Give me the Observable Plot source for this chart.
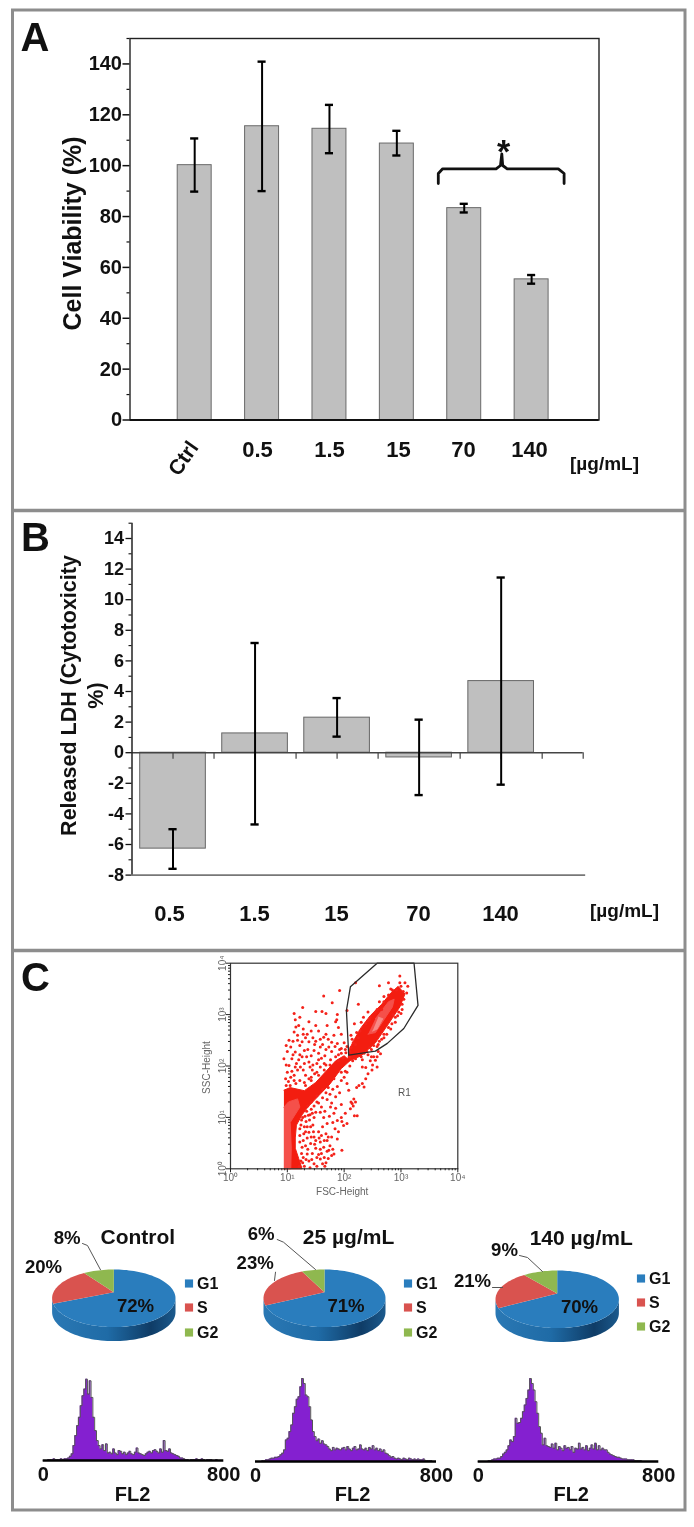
<!DOCTYPE html>
<html><head><meta charset="utf-8">
<style>html,body{margin:0;padding:0;background:#fff;overflow:hidden}#root{position:relative;width:694px;height:1527px;filter:blur(0.4px)}#root svg{position:absolute;left:0;top:0}</style>
<script src="https://cdn.jsdelivr.net/npm/d3@7"></script>
<script src="https://cdn.jsdelivr.net/npm/@observablehq/plot@0.6"></script>
</head><body><div id="root"></div>
<script>
const W=694,H=1527,FONT='"Liberation Sans",Arial,sans-serif';
// Panel A
const aConc=["Ctrl","0.5","1.5","15","70","140"];
const aMean=[100.2,115.5,114.5,108.7,83.3,55.3];
const aHigh=[110.7,140.9,123.9,113.7,85,57];
const aLow=[89.8,90,104.9,104,81.6,53.6];
// Panel B
const bConc=["0.5","1.5","15","70","140"];
const bMean=[-6.27,1.26,2.29,-0.31,4.68];
const bHigh=[-5,7.17,3.57,2.16,11.45];
const bLow=[-7.59,-4.69,1.05,-2.77,-2.09];
// Panel C pies
const phases=["G1","S","G2"];
const phaseColors=["#2a7dbd","#d9534f","#8fb84f"];
const pieControl=[72,20,8],pie25=[71,23,6],pie140=[70,21,9];
// Histograms: counts, FL2 0..800
const histControl=[0,0,0,1,1,1,2,1,1,1,2,1,2,2,3,5,8,18,30,42,52,66,78,86,98,80,96,76,52,36,24,18,14,19,12,20,9,10,8,14,9,7,12,11,8,10,7,9,11,8,7,10,15,9,8,7,6,8,10,11,9,12,13,11,9,14,10,24,12,11,14,9,8,7,6,5,3,3,2,1,1,0,1,1,1,2,1,1,2,1,0,1,1,1,0,0,1,0,0,0];
const hist25=[0,0,0,0,1,1,2,2,3,4,4,5,5,6,8,10,14,26,28,36,44,58,66,75,78,90,100,94,80,78,66,50,36,30,25,27,22,25,21,20,18,15,13,17,14,16,15,14,16,17,14,18,15,13,16,18,14,15,20,15,14,16,13,17,15,19,14,16,13,15,12,14,10,9,7,5,6,4,3,4,3,2,4,3,2,4,3,2,3,2,3,2,2,3,1,1,1,1,0,0];
const hist140=[0,0,0,0,0,0,1,1,2,3,3,4,4,6,9,11,14,19,26,24,30,52,46,47,52,60,68,76,86,100,94,86,72,58,42,34,20,28,19,18,17,21,16,22,14,18,16,13,19,16,17,14,18,11,16,15,22,15,17,14,19,13,16,20,15,22,14,19,14,16,14,14,11,9,8,7,6,5,5,4,3,3,3,2,2,2,2,1,1,1,1,0,0,0,0,0,0,0,0,0];
// Flow cytometry: [log10 FSC, log10 SSC]
const scatterExp=[[1.64,3.36],[1.79,3.23],[1.92,3.47],[1.27,3.14],[1.12,3.02],[1.14,2.9],[1.5,3.06],[1.61,3.06],[1.68,3.02],[1.87,2.9],[1.85,2.86],[2.05,3.08],[1.38,2.86],[1.5,2.79],[1.2,2.79],[1.12,2.66],[1.03,2.5],[1.18,2.6],[1.26,2.47],[1.38,2.47],[1.47,2.3],[1.7,2.79],[1.64,2.56],[1.82,2.6],[1.88,2.44],[1.73,2.37],[1.58,2.37],[1.06,2.37],[0.94,2.14],[1.14,2.27],[1.26,2.18],[1.03,2.01],[1.14,1.98],[1.23,1.98],[1.38,2.08],[1.52,2.05],[1,1.88],[1.12,1.82],[1.32,1.82],[1.44,1.92],[0.97,1.75],[1.08,2.14],[1.2,2.12],[1.3,2.3],[1.42,2.2],[1.55,2.25],[1.66,2.2],[1.78,2.28],[1.35,2.62],[1.45,2.55],[1.55,2.68],[1.28,2.72],[1.22,2.4],[1.1,2.48],[1.0,2.28],[1.16,2.05],[1.4,1.98],[1.28,1.92],[1.08,1.9],[1.62,2.42],[1.72,2.52],[1.9,2.22],[1.95,2.34],[1.6,2.15],[1.48,2.42],[1.34,2.18],[0.98,2.02],[1.06,1.78],[1.42,1.78],[1.52,1.88],[1.65,2.05],[1.76,2.12],[1.84,2.38],[2.0,2.45],[1.95,2.62],[1.68,2.62],[1.9,2.75],[1.22,2.95],[1.15,2.76],[1.32,2.55],[2.2,3.62],[2.62,3.56],[1.88,3.0],
[2.25,3.2],[2.34,2.95],[2.18,2.82],[2.12,2.6],[2.2,2.42],[2.42,3.05],[2.62,3.25],[2.78,3.62],[2.98,3.75],[3.07,3.62],[3.12,3.55],[2.98,3.62],[3.05,3.3],[2.96,3.05],[2.84,2.82],[2.7,2.62],[2.62,2.48],[2.45,2.36],[2.3,2.18],[2.12,2.36],[2.22,2.65],[2.3,2.85],[2.45,2.9],[2.58,3.1],[2.7,3.35],[2.82,3.5],[3.02,3.2],[2.9,2.95],[2.78,2.75],[2.58,2.38],[2.4,2.28],
[2.55,2.11],[2.52,2.18],[2.64,2.24],[2.49,1.92],[2.38,1.75],[2.32,1.98],[2.38,1.97],[2.5,2.02],[2.58,1.98],[2.46,2.1],[2.32,1.66],[2.26,1.62],[2.35,1.59],[2.05,1.66],[2.08,1.53],[2.22,1.58],[2.42,1.85],[1.47,1.0],[1.64,1.0],[1.76,1.2],[1.7,0.88],[1.88,0.94],[1.99,0.84],[2.05,0.88],[2.17,1.36],[2.14,1.27],[2.11,1.17],[2.23,1.03],[2.18,1.03],[2.16,1.22],[2.2,1.3],[2.12,1.3],[1.95,1.25],[1.82,1.08],[1.6,1.2],[1.52,1.3],[1.7,1.35],[1.85,1.4],[1.92,1.48],[1.75,1.45],[1.58,1.1],[1.42,1.16],[1.47,0.62],[1.58,0.52],[1.7,0.55],[1.64,0.42],[1.73,0.36],[1.88,0.58],[1.96,0.36],[1.82,0.29],[1.58,0.19],[1.47,0.1],[1.35,0.29],[1.29,0.68],[1.38,0.71],[1.41,0.49],[1.55,0.72],[1.45,0.85],[1.33,0.92],[1.62,0.82],[1.5,0.4],[1.6,0.3],[1.72,0.2],[1.52,0.05],[1.4,0.02],[1.65,0.55],[1.78,0.62],[1.84,0.78],[1.95,1.0],[1.8,0.9],[2.02,1.08],[1.38,0.15],[1.44,0.3],[1.32,0.45],[1.35,0.6],[1.42,0.62],[1.56,0.6],[1.68,0.68],[1.75,0.45],[1.62,0.1],[1.55,0.28],[1.3,0.82],[1.25,0.95],[1.4,1.05],[1.5,1.1],
[1.25,0.3],[1.27,0.12],[1.3,0.05],[1.22,0.52],[1.22,0.78],[1.27,1.0],[1.34,1.12],[1.42,1.3],[1.52,1.42],[1.62,1.55],[1.72,1.58],[1.82,1.75],[1.95,1.88],[2.02,1.9],[2.1,2.0],[1.32,1.62],[1.42,1.72],[1.55,1.82],[1.65,1.92],[1.75,2.02],[1.85,2.18],[1.95,2.25],[2.03,2.26],[2.1,2.18],[1.05,1.62],[1.15,1.66],[0.98,1.62],[2.32,2.12],[2.42,2.22],[2.6,2.42],[2.7,2.55],[2.82,2.72],[2.94,2.98],[3.02,3.1],[3.1,3.42],[3.0,3.55],[2.85,3.48],[2.7,3.25],[2.55,3.05],[2.42,2.88],[2.28,2.68],[2.16,2.45],[2.05,2.38],
[1.21,0.05],[1.24,0.15],[1.28,0.22],[1.33,0.18],[1.36,0.38],[1.26,0.42],[1.28,0.55],[1.22,0.65],[1.32,0.72],[1.24,0.85],[1.35,0.82],[1.39,0.95],[1.31,1.02],[1.37,1.04],[1.44,1.08],[1.47,1.22],[1.55,1.28],[1.36,1.22],[1.41,0.82],[1.46,0.72],[1.5,0.55],[1.52,0.22],[1.43,0.18],[1.68,0.12],[1.78,0.26],[1.65,0.22],[1.7,0.34],[1.66,0.05],[1.58,0.38],[1.48,0.48],[1.8,0.38],[1.72,0.62],[1.6,0.65],[1.9,0.72],[1.96,0.92],[1.74,1.02],[1.66,1.12],[1.78,1.28],[1.85,1.18],[1.88,1.6],[1.62,1.38],[1.68,1.48],[1.95,1.72],[2.0,1.78],[2.05,1.88],[1.8,1.55],[1.3,1.68],[1.22,1.72],[1.12,1.72],[1.02,1.7],[1.38,1.75],[1.48,1.85],[1.58,1.98],[1.68,2.02],[1.9,2.1],[1.98,2.15],[2.15,2.1],[2.25,2.25],[2.2,2.14],[2.35,2.25],[2.48,2.32],[2.52,2.4],[2.66,2.52],[2.75,2.62],[2.9,2.85],[2.86,3.0],[3.0,3.02],[3.04,3.45],[2.92,3.48],[2.78,3.38],[2.66,3.1],[2.46,2.95],[2.38,2.82],[2.25,2.55],[2.14,2.52],[2.02,2.32],[2.1,2.28],[2.6,2.28],[2.48,2.18],[2.58,2.18],[1.18,2.5],[1.28,2.62],[1.42,2.68],[1.58,2.52],[1.78,2.46],[1.92,2.32],[1.68,2.32],[1.55,2.12],[1.1,2.22],[0.98,2.4],[1.22,2.22],[1.36,2.32],[1.5,2.48],[1.3,2.05],[1.18,1.92],[1.45,2.02]];
// Dense regions of the dot plot, [log10 FSC, log10 SSC]
const denseLow=[[0.94,0],[1.26,0],[1.2,0.2],[1.14,0.4],[1.14,0.6],[1.16,0.85],[1.26,1.05],[1.36,1.2],[1.55,1.42],[1.75,1.65],[1.95,1.95],[2.1,2.1],[2.0,2.2],[1.85,2.1],[1.7,1.92],[1.5,1.68],[1.3,1.52],[1.05,1.58],[0.94,1.53]];
const denseLowCore=[[0.94,0],[1.06,0],[1.07,0.4],[1.05,0.9],[1.22,1.2],[1.18,1.36],[1.02,1.3],[0.94,1.2]];
const denseHigh=[[2.05,2.08],[2.3,2.2],[2.55,2.45],[2.78,2.82],[2.98,3.15],[3.07,3.4],[2.95,3.55],[2.82,3.42],[2.66,3.2],[2.46,2.98],[2.3,2.75],[2.18,2.52],[2.08,2.3]];
const denseHighCore=[[2.42,2.62],[2.55,2.65],[2.85,3.15],[2.88,3.3],[2.78,3.25],[2.55,2.92]];
const denseHighLight=[[2.5,2.68],[2.58,2.72],[2.68,2.92],[2.6,2.95]];
const gateExp=[[2.11,3.54],[2.58,4],[3.23,4],[3.3,3.18],[3.05,2.73],[2.76,2.44],[2.55,2.29],[2.08,2.21],[2.04,3.08],[2.11,3.54]];

function at(l,r,t,b,opts){return Plot.plot({width:W,height:H,marginLeft:l,marginRight:W-r,marginTop:t,marginBottom:H-b,
  style:{background:"transparent",fontFamily:FONT,color:"#111"},...opts});}
const root=document.getElementById("root");
const blank=()=>"";

/* ---- page layer: frames, letters, pies, text ---- */
const txt=(s,x,y,o={})=>Plot.text([s],{x:()=>x,y:()=>y,text:d=>d,fontWeight:"bold",fontSize:20,fill:"#111",...o});
const poly=(p,o={})=>Plot.line(p,{x:d=>d[0],y:d=>d[1],stroke:"#333",strokeWidth:1,...o});
function pie(cx,cy,rx,ry,depth,apexY,vals){
  const arcs=d3.pie().sort(null).value(d=>d)(vals),m=[];
  const side=[];
  d3.range(0,61).forEach(i=>{const a=Math.PI*i/60;side.push([cx+rx*Math.cos(a),cy+ry*Math.sin(a)])});
  d3.range(60,-1,-1).forEach(i=>{const a=Math.PI*i/60;side.push([cx+rx*Math.cos(a),cy+depth+ry*Math.sin(a)])});
  m.push(Plot.line(side,{x:d=>d[0],y:d=>d[1],fill:"url(#pieSide)",stroke:"none"}));
  arcs.forEach((s,k)=>{
    const pts=[[cx,apexY]];
    const n=Math.max(6,Math.round((s.endAngle-s.startAngle)*24));
    d3.range(0,n+1).forEach(i=>{const a=s.startAngle+(s.endAngle-s.startAngle)*i/n;pts.push([cx+rx*Math.sin(a),cy-ry*Math.cos(a)])});
    m.push(Plot.line(pts,{x:d=>d[0],y:d=>d[1],fill:phaseColors[k],stroke:"none",curve:"linear"}));
  });
  return m;
}
function legend(x,ys){
  return phases.flatMap((p,i)=>[
    Plot.dot([p],{x:()=>x,y:()=>ys[i],symbol:"square",r:4.6,fill:phaseColors[i],stroke:"none"}),
    txt(p,x+8,ys[i],{textAnchor:"start",fontSize:16})
  ]);
}
const defs=()=>{const s=d3.create("svg:defs");
  const g=s.append("linearGradient").attr("id","pieSide");
  [[0,"#2a78b4"],[.45,"#1f6ba6"],[.8,"#0f3c66"],[1,"#1b5a8d"]].forEach(([o,c])=>g.append("stop").attr("offset",o).attr("stop-color",c));
  return s.node();};
const [c1,c2,c3]=[[113.3,1297.8,61.7,1291.7],[324,1297.8,61,1291.7],[556.7,1298.8,61.7,1293]];
const page=Plot.plot({width:W,height:H,margin:0,style:{background:"transparent",fontFamily:FONT,color:"#111",position:"absolute"},
 x:{domain:[0,W],range:[0,W],axis:null},y:{domain:[0,H],range:[0,H],axis:null},
 marks:[defs,
  Plot.rect([0],{x1:()=>12.5,x2:()=>685,y1:()=>10,y2:()=>1510,fill:"none",stroke:"#8d8d8d",strokeWidth:3}),
  Plot.ruleY([510,950],{x1:12.5,x2:685,stroke:"#8d8d8d",strokeWidth:3.5}),
  txt("A",34.5,38,{fontSize:40}),txt("B",35,538,{fontSize:40}),txt("C",35,978,{fontSize:40}),
  // A labels
  txt("Cell Viability (%)",72.5,233,{rotate:-90,fontSize:25}),
  txt("Ctrl",183,458,{rotate:-55,fontSize:21}),
  ...aConc.slice(1).map((c,i)=>txt(c,[257,329,398,463,529][i],449,{fontSize:22})),
  txt("[µg/mL]",604,463,{fontSize:19}),
  poly([[437.8,183],[437.8,173],[442.2,168.3],[495.6,168.3],[500,165],[501.3,153.3],[502.2,165],[506.7,168.3],[557.8,168.3],[563.6,173],[563.6,183]],{stroke:"#111",strokeWidth:2.8}),
  txt("*",503,152,{fontSize:34}),
  // B labels
  txt("Released LDH (Cytotoxicity",69,695,{rotate:-90,fontSize:21.5}),
  txt("%)",96,695,{rotate:-90,fontSize:21.5}),
  ...bConc.map((c,i)=>txt(c,[169,254,336,418,500][i],913,{fontSize:22})),
  txt("[µg/mL]",624,910,{fontSize:19}),
  // scatter labels
  txt("FSC-Height",341.7,1191,{fontSize:10,fontWeight:"normal",fill:"#666"}),
  txt("SSC-Height",206,1067,{fontSize:10,fontWeight:"normal",fill:"#666",rotate:-90}),
  txt("R1",404,1092,{fontSize:10,fontWeight:"normal",fill:"#555"}),
  // pies
  ...pie(c1[0],c1[1],c1[2],28.8,14,c1[3],pieControl),
  ...pie(c2[0],c2[1],c2[2],28.8,14,c2[3],pie25),
  ...pie(c3[0],c3[1],c3[2],28.8,14,c3[3],pie140),
  txt("Control",137.3,1236.5,{fontSize:21}),txt("25 µg/mL",348,1236.5,{fontSize:21}),txt("140 µg/mL",580.7,1238,{fontSize:21}),
  txt("72%",135,1306,{fontSize:18.6}),txt("71%",345.5,1306,{fontSize:18.6}),txt("70%",579,1307,{fontSize:18.6}),
  txt("8%",66.7,1238,{fontSize:18.6}),txt("20%",43,1267,{fontSize:18.6}),
  txt("6%",260.7,1234,{fontSize:18.6}),txt("23%",254.7,1263,{fontSize:18.6}),
  txt("9%",504,1250,{fontSize:18.6}),txt("21%",472,1281,{fontSize:18.6}),
  poly([[82,1243],[87,1245],[100,1269.3]],{stroke:"#555"}),
  poly([[276.7,1239],[283,1241.7],[315,1269]],{stroke:"#555"}),
  poly([[275,1271.7],[274,1280]],{stroke:"#555"}),
  poly([[519,1255],[527,1257],[542,1271]],{stroke:"#555"}),
  poly([[492,1287],[502,1287]],{stroke:"#555"}),
  ...legend(188.5,[1283,1307,1332]),...legend(407.5,[1283,1307,1332]),...legend(640.5,[1278,1302,1326]),
  txt("FL2",132,1494),txt("FL2",352,1494),txt("FL2",570.7,1494)
 ]});
root.append(page);

/* ---- panel A ---- */
const aRows=aConc.map((c,i)=>({i,c,m:aMean[i],hi:aHigh[i],lo:aLow[i]}));
const range=(a,b,s)=>d3.range(a,b+s/2,s);
root.append(at(129.5,598.5,38,419.5,{
  x:{domain:[-0.96,6],axis:null},y:{domain:[0,150]},
  marks:[
   Plot.rectY(aRows,{x1:d=>d.i-.252,x2:d=>d.i+.252,y1:0,y2:"m",fill:"#bfbfbf",stroke:"#6a6a6a",strokeWidth:1}),
   Plot.ruleX(aRows,{x:"i",y1:"lo",y2:"hi",stroke:"#000",strokeWidth:2}),
   Plot.ruleY(aRows,{y:"hi",x1:d=>d.i-.06,x2:d=>d.i+.06,stroke:"#000",strokeWidth:2.4}),
   Plot.ruleY(aRows,{y:"lo",x1:d=>d.i-.06,x2:d=>d.i+.06,stroke:"#000",strokeWidth:2.4}),
   Plot.frame({stroke:"#222",strokeWidth:1.4}),
   Plot.ruleY([0],{stroke:"#111",strokeWidth:2}),
   Plot.axisY({ticks:range(10,150,20),tickSize:3,tickFormat:blank,label:null,strokeWidth:1.2}),
   Plot.axisY({ticks:range(0,140,20),tickSize:7,tickPadding:1,fontSize:20,fontWeight:"bold",label:null,strokeWidth:1.5,tickFormat:d=>String(d)})
  ]}));

/* ---- panel B ---- */
const bRows=bConc.map((c,i)=>({i,c,m:bMean[i],hi:bHigh[i],lo:bLow[i]}));
root.append(at(131.5,582.7,522.7,874.6,{
  x:{domain:[-0.5,5],axis:null},y:{domain:[-8,15]},
  marks:[
   Plot.rectY(bRows,{x1:d=>d.i-.4,x2:d=>d.i+.4,y1:0,y2:"m",fill:"#bfbfbf",stroke:"#666",strokeWidth:1}),
   Plot.ruleY([0],{stroke:"#444",strokeWidth:1.6}),
   Plot.ruleY([-8],{x1:-.5,x2:5.03,stroke:"#777",strokeWidth:1.6}),
   Plot.ruleX(range(0,5,.5),{y1:0,y2:-.42,stroke:"#444",strokeWidth:1.2}),
   Plot.ruleX(bRows,{x:"i",y1:"lo",y2:"hi",stroke:"#000",strokeWidth:2}),
   Plot.ruleY(bRows,{y:"hi",x1:d=>d.i-.05,x2:d=>d.i+.05,stroke:"#000",strokeWidth:2.4}),
   Plot.ruleY(bRows,{y:"lo",x1:d=>d.i-.05,x2:d=>d.i+.05,stroke:"#000",strokeWidth:2.4}),
   Plot.ruleX([-.5],{stroke:"#222",strokeWidth:1.5}),
   Plot.axisY({ticks:range(-7,15,2),tickSize:3,tickFormat:blank,label:null,strokeWidth:1.1}),
   Plot.axisY({ticks:range(-8,14,2),tickSize:6,tickPadding:2,fontSize:18,fontWeight:"bold",label:null,strokeWidth:1.3,tickFormat:d=>String(d)})
  ]}));

/* ---- dot plot ---- */
const exp=p=>p.map(([a,b])=>[10**a,10**b]);
const sup=["⁰","¹","²","³","⁴"];
const major=[1,10,100,1000,10000];
const minor=major.slice(0,4).flatMap(d=>[2,3,4,5,6,7,8,9].map(k=>k*d));
const fmt=d=>"10"+sup[Math.round(Math.log10(d))];
const shape=(p,c)=>Plot.line(exp(p),{x:d=>d[0],y:d=>d[1],fill:c,stroke:c,strokeWidth:1});
root.append(at(230,457.3,962.7,1168.3,{
  x:{type:"log",domain:[1,1e4],axis:null},y:{type:"log",domain:[1,1e4],axis:null},
  marks:[
   shape(denseLow,"#f31d10"),shape(denseLowCore,"#f5504a"),
   shape(denseHigh,"#f31d10"),shape(denseHighCore,"#f5504a"),shape(denseHighLight,"#f88a86"),
   Plot.dot(exp(scatterExp),{x:d=>d[0],y:d=>d[1],r:1.5,fill:"#f4221a",stroke:"none"}),
   Plot.line(exp(gateExp),{x:d=>d[0],y:d=>d[1],stroke:"#2a2a2a",strokeWidth:1.3}),
   Plot.frame({stroke:"#333",strokeWidth:1.2}),
   Plot.axisX({ticks:minor,tickSize:2,tickFormat:blank,label:null,stroke:"#222"}),
   Plot.axisY({ticks:minor,tickSize:2,tickFormat:blank,label:null,stroke:"#222"}),
   Plot.axisX({ticks:major,tickSize:4,tickPadding:1,tickFormat:fmt,fontSize:10,fill:"#666",stroke:"#222",label:null}),
   Plot.axisY({ticks:major,tickSize:4,tickPadding:1,tickFormat:fmt,fontSize:10,fill:"#666",stroke:"#222",label:null,tickRotate:-90})
  ]}));

/* ---- histograms ---- */
function hist(vals,l,r,base,top){
  const rows=vals.map((v,i)=>({x:i*800/vals.length,v}));
  root.append(at(l,r,top,base,{
    x:{domain:[0,800],axis:null},y:{domain:[0,100],axis:null},
    marks:[
      Plot.areaY(rows,{x:"x",y:"v",curve:"step",fill:"#8420d0"}),
      Plot.lineY(rows,{x:"x",y:"v",curve:"step",stroke:"#555",strokeWidth:1}),
      Plot.ruleY([0],{stroke:"#000",strokeWidth:2.4}),
      Plot.axisX({ticks:[0,800],tickSize:0,tickPadding:6,fontSize:20,fontWeight:"bold",label:null,lineAnchor:"top"})
    ]}));
}
hist(histControl,42.7,223.3,1460,1377);
hist(hist25,255,436,1461,1378);
hist(hist140,477.7,658.3,1461,1378);
</script></body></html>
